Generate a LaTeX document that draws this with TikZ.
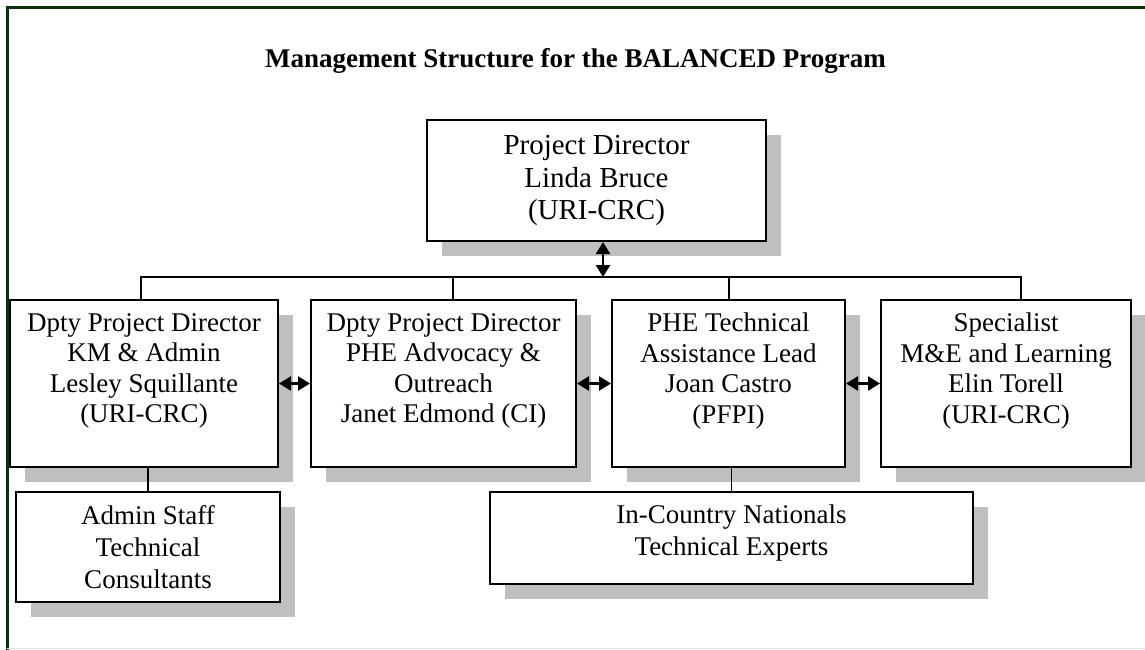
\documentclass[tikz,border=0pt]{standalone}
\usepackage{fontspec}
\setmainfont{Liberation Serif}
\usetikzlibrary{arrows.meta}
\usetikzlibrary{shadows}
\tikzset{>={Triangle[length=12pt,width=14pt]}}
\definecolor{framegreen}{RGB}{10,50,10}
\tikzstyle{box}=[
  draw,
  fill=white,
  line width=2pt,
  inner sep=0pt,
  align=center,
  drop shadow={shadow xshift=15pt,shadow yshift=-15pt,fill=black!25,opacity=1}
]
\tikzstyle{head}=[box,font=\fontsize{29}{32.5}\selectfont]
\tikzstyle{staff}=[box,font=\fontsize{27}{30.5}\selectfont,minimum height=167pt,text depth=31pt]
\tikzstyle{support}=[box,font=\fontsize{27}{32}\selectfont]
\tikzstyle{link}=[line width=1.8pt]
\tikzstyle{both}=[<->,line width=2.4pt]

\begin{document}
\begin{tikzpicture}[x=1pt,y=-1pt]
  \useasboundingbox (0,0) rectangle (1145,650);
  \draw[framegreen,line width=3pt] (7,650) -- (7,8) -- (1145,8);
  \draw[black!10,line width=1pt] (7,648) -- (1145,648);

  \node[anchor=base,font=\fontsize{27}{32}\selectfont\bfseries] (ttl) at (575.5,68)
    {Management Structure for the BALANCED Program};

  \node[head,minimum width=339pt,minimum height=121pt] (pd) at (596.5,180.5)
    {Project Director\\Linda Bruce\\(URI-CRC)};

  \node[staff,minimum width=268pt] (km) at (144,383.5)
    {Dpty Project Director\\KM \& Admin\\Lesley Squillante\\(URI-CRC)};
  \node[staff,minimum width=265pt] (adv) at (443.5,383.5)
    {Dpty Project Director\\PHE Advocacy \&\\Outreach\\Janet Edmond (CI)};
  \node[staff,minimum width=233pt] (ta) at (728.5,383.5)
    {PHE Technical\\Assistance Lead\\Joan Castro\\(PFPI)};
  \node[staff,minimum width=250pt] (me) at (1006,383.5)
    {Specialist\\M\&E and Learning\\Elin Torell\\(URI-CRC)};

  \node[support,minimum width=264pt,minimum height=110pt] (adm) at (148,547)
    {Admin Staff\\Technical\\Consultants};
  \node[support,minimum width=483pt,minimum height=92pt,text depth=16pt] (nat) at (731.5,538)
    {In-Country Nationals\\Technical Experts};

  % reporting bus
  \coordinate (busL) at (141,277);
  \coordinate (busA) at (453,277);
  \coordinate (busB) at (603,277);
  \coordinate (busC) at (729,277);
  \coordinate (busR) at (1021,277);
  \draw[link] (busL |- km.north) -- (busL) -- (busR) -- (busR |- me.north);
  \draw[link] (busA) -- (busA |- adv.north);
  \draw[link] (busC) -- (busC |- ta.north);
  \draw[both] (busB |- pd.south) -- (busB);

  \draw[both] (km.east) -- (adv.west);
  \draw[both] (adv.east) -- (ta.west);
  \draw[both] (ta.east) -- (me.west);

  \draw[link] (km.south -| adm.north) -- (adm.north);
  \draw[link] (ta.south -| nat.north) -- (nat.north);
\end{tikzpicture}
\end{document}
